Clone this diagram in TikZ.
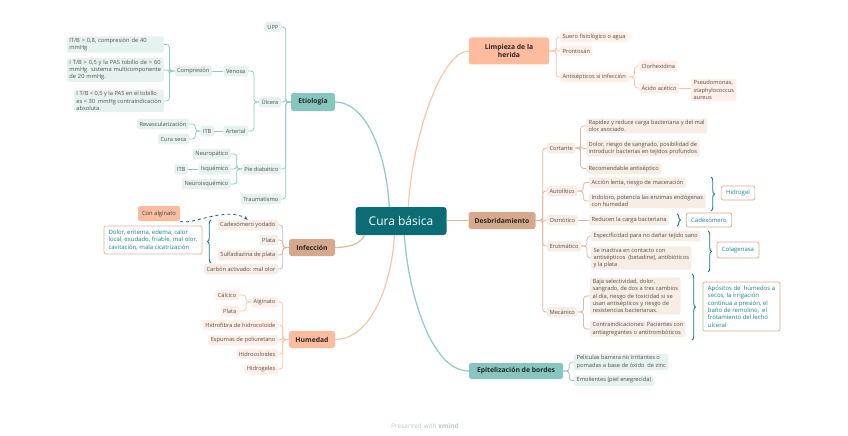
\documentclass[tikz,border=0pt]{standalone}
\usepackage{fontspec}
\setmainfont{Open Sans}
\usetikzlibrary{decorations.pathreplacing,arrows.meta,calc}
\definecolor{cdark}{HTML}{0B6C73}
\definecolor{tmainc}{HTML}{86C6BF}
\definecolor{tlinec}{HTML}{8ACBC3}
\definecolor{tsubc}{HTML}{E5F2F0}
\definecolor{pmainc}{HTML}{FFBB9E}
\definecolor{plinec}{HTML}{FFC2A6}
\definecolor{psubc}{HTML}{FEF0E9}
\definecolor{bmainc}{HTML}{D6A98C}
\definecolor{blinec}{HTML}{DDB79F}
\definecolor{bsubc}{HTML}{F6EDE7}
\definecolor{txtc}{HTML}{574D48}
\definecolor{sumc}{HTML}{16808A}
\definecolor{bracec}{HTML}{137C86}
\definecolor{wmc}{HTML}{BFC5C5}
\newcommand\LeftLink[4]{\draw[#1] (#2.west) -- ++(-#4,0) |- (#3.east);}
\newcommand\RightLink[4]{\draw[#1] (#2.east) -- ++(#4,0) |- (#3.west);}
\begin{document}
\begin{tikzpicture}[x=1pt,y=-1pt,
 sub/.style={rounded corners=2pt, inner xsep=2.4pt, inner ysep=1.6pt, minimum height=10.5pt, font=\fontsize{5.7}{7.3}\selectfont, text=txtc, align=left},
 ts/.style={sub, fill=tsubc}, ps/.style={sub, fill=psubc}, bs/.style={sub, fill=bsubc},
 mainn/.style={rounded corners=2.5pt, font=\fontsize{6.8}{8.6}\selectfont\bfseries, text=black!85, align=center, inner sep=0pt},
 tl/.style={draw=tlinec, line width=0.75pt, rounded corners=3pt},
 pl/.style={draw=plinec, line width=0.75pt, rounded corners=3pt},
 bl/.style={draw=blinec, line width=0.75pt, rounded corners=3pt},
 tlm/.style={draw=tlinec, line width=1.2pt},
 plm/.style={draw=plinec, line width=1.2pt},
 blm/.style={draw=blinec, line width=1.2pt},
 sumbox/.style={draw=bmainc, fill=white, line width=0.7pt, rounded corners=2pt, text=sumc, font=\fontsize{6}{7.4}\selectfont, align=left, inner xsep=4pt, inner ysep=3pt},
 brc/.style={draw=bracec, line width=0.9pt, decorate, decoration={brace, amplitude=3.5pt}},
 ae/.style={anchor=east}, aw/.style={anchor=west}
]
\useasboundingbox[fill=white] (0,0) rectangle (848,436);

% central
\node[fill=cdark, text=white, rounded corners=3pt, minimum width=91pt, minimum height=28pt, font=\fontsize{12}{14}\selectfont] (cb) at (401,221) {Cura básica};

% main topics
\node[mainn, fill=tmainc, minimum width=44pt, minimum height=18pt] (etio) at (313,102) {Etiología};
\node[mainn, fill=pmainc, minimum width=80pt, minimum height=27pt] (limp) at (509,51) {Limpieza de la\\herida};
\node[mainn, fill=bmainc, minimum width=67pt, minimum height=17pt] (desb) at (502,220.5) {Desbridamiento};
\node[mainn, fill=bmainc, minimum width=46pt, minimum height=17pt] (infe) at (312,247.5) {Infección};
\node[mainn, fill=pmainc, minimum width=46pt, minimum height=17pt] (hume) at (312,339.5) {Humedad};
\node[mainn, fill=tmainc, minimum width=94pt, minimum height=16pt] (epit) at (516,371) {Epitelización de bordes};

% main curves
\draw[tlm] (etio.east) .. controls (365,102) and (386,150) .. ($(cb.north west)+(34,0)$);
\draw[plm] (limp.west) .. controls (443,51) and (413,130) .. ($(cb.north west)+(53,0)$);
\draw[blm] (cb.east |- desb.west) -- (desb.west);
\draw[blm] (infe.east) .. controls (352,247.5) and (362,242) .. ($(cb.south west)+(9,0)$);
\draw[plm] (hume.east) .. controls (372,339.5) and (392,282) .. ($(cb.south west)+(39,0)$);
\draw[tlm] (epit.west) .. controls (430,371) and (408,290) .. ($(cb.south west)+(49,0)$);

% ---------- Etiologia ----------
\node[ts, ae] (upp) at (281,27) {UPP};
\node[ts, ae] (ulc) at (281,102) {Úlcera};
\node[ts, ae] (pied) at (281,169) {Pie diabético};
\node[ts, ae] (trau) at (281,199) {Traumatismo};
\foreach \c in {upp,ulc,pied,trau} {\LeftLink{tl}{etio}{\c}{5}}

\node[ts, ae] (veno) at (248,71) {Venosa};
\node[ts, ae] (arte) at (248,131) {Arterial};
\LeftLink{tl}{ulc}{veno}{5}
\LeftLink{tl}{ulc}{arte}{5}

\node[ts, ae] (comp) at (212,71) {Compresión};
\draw[tl] (veno.west) -- (comp.east);
\node[ts, ae, text width=92pt] (c1) at (164,44.5) {IT/B > 0,8, compresión de 40\\mmHg};
\node[ts, ae, text width=92pt] (c2) at (164,70) {I T/B > 0,5 y la PAS tobillo de > 60\\mmHg \ sistema multicomponente\\de 20 mmHg.};
\node[ts, ae] (c3) at (164,101) {I T/B < 0,5 y la PAS en el tobillo\\es < 30 \ mmHg contraindicación\\absoluta.};
\foreach \c in {c1,c2,c3} {\LeftLink{tl}{comp}{\c}{5}}

\node[ts, ae] (itb1) at (214,131) {ITB};
\draw[tl] (arte.west) -- (itb1.east);
\node[ts, ae] (reva) at (189,124) {Revascularización};
\node[ts, ae] (cura) at (189,139) {Cura seca};
\LeftLink{tl}{itb1}{reva}{5}
\LeftLink{tl}{itb1}{cura}{5}

\node[ts, ae] (neur) at (231,154) {Neuropático};
\node[ts, ae] (isqu) at (231,169) {Isquémico};
\node[ts, ae] (neis) at (231,184) {Neuroisquémico};
\foreach \c in {neur,isqu,neis} {\LeftLink{tl}{pied}{\c}{5}}
\node[ts, ae] (itb2) at (188,169) {ITB};
\draw[tl] (isqu.west) -- (itb2.east);

% ---------- Infeccion ----------
\node[bs, ae] (cadx) at (278,225) {Cadexómero yodado};
\node[bs, ae] (plai) at (278,240) {Plata};
\node[bs, ae] (sulf) at (278,255) {Sulfadiazina de plata};
\node[bs, ae] (carb) at (278,269) {Carbón activado: mal olor};
\foreach \c in {cadx,plai,sulf,carb} {\LeftLink{bl}{infe}{\c}{6}}
\draw[brc] (211,263) -- (211,220);
\node[sumbox, draw=bmainc!85, minimum width=98pt, minimum height=28pt, font=\fontsize{6}{7.6}\selectfont] (dolo) at (153,240) {Dolor, eritema, edema, calor\\local, exudado, friable, mal olor,\\cavitación, mala cicatrización};
\node[fill=pmainc, rounded corners=2pt, minimum width=42pt, minimum height=15pt, inner sep=0pt, font=\fontsize{5.8}{7}\selectfont, text=cdark!80!black] (calg) at (159,213.5) {Con alginato};
\draw[draw=cdark, line width=0.8pt, dashed, -{Stealth[length=4pt,width=3.5pt]}] (calg.south east) .. controls (190,226) and (226,206) .. (cadx.north);

% ---------- Humedad ----------
\node[ps, ae] (algi) at (278,302) {Alginato};
\node[ps, ae] (hfib) at (278,325) {Hidrofibra de hidrocoloide};
\node[ps, ae] (espu) at (278,340) {Espumas de poliuretano};
\node[ps, ae] (hcol) at (278,354) {Hidrocoloides};
\node[ps, ae] (hgel) at (278,369) {Hidrogeles};
\foreach \c in {algi,hfib,espu,hcol,hgel} {\LeftLink{pl}{hume}{\c}{6}}
\node[ps, ae] (calc) at (239,295) {Cálcico};
\node[ps, ae] (plah) at (239,311) {Plata};
\LeftLink{pl}{algi}{calc}{5}
\LeftLink{pl}{algi}{plah}{5}

% ---------- Limpieza ----------
\node[ps, aw] (suer) at (560,37) {Suero fisiológico o agua};
\node[ps, aw] (pron) at (560,51) {Prontosán};
\node[ps, aw] (anti) at (560,77) {Antisépticos si infección};
\foreach \c in {suer,pron,anti} {\RightLink{pl}{limp}{\c}{7}}
\node[ps, aw] (clor) at (639,66) {Clorhexidina};
\node[ps, aw] (acid) at (639,88) {Ácido acético};
\RightLink{pl}{anti}{clor}{6}
\RightLink{pl}{anti}{acid}{6}
\node[ps, aw] (pseu) at (691,90) {Pseudomonas,\\staphylococcus\\aureus};
\draw[pl] (acid.east) -- (acid.east -| pseu.west);

% ---------- Desbridamiento ----------
\node[bs, aw] (cort) at (547,148) {Cortante};
\node[bs, aw] (auto) at (547,191) {Autolítico};
\node[bs, aw] (osmo) at (547,220) {Osmótico};
\node[bs, aw] (enzi) at (547,246) {Enzimático};
\node[bs, aw] (meca) at (547,312) {Mecánico};
\foreach \c in {cort,auto,osmo,enzi,meca} {\RightLink{bl}{desb}{\c}{7}}

\node[bs, aw] (r1) at (586,126) {Rapidez y reduce carga bacteriana y del mal\\olor asociado.};
\node[bs, aw] (r2) at (586,148.5) {Dolor, riesgo de sangrado, posibilidad de\\introducir bacterias en tejidos profundos};
\node[bs, aw] (r3) at (586,168.5) {Recomendable antiséptico};
\foreach \c in {r1,r2,r3} {\RightLink{bl}{cort}{\c}{5}}

\node[bs, aw] (a1) at (589,182.5) {Acción lenta, riesgo de maceración};
\node[bs, aw] (a2) at (589,201) {Indoloro, potencia las enzimas endógenas\\con humedad};
\RightLink{bl}{auto}{a1}{6}
\RightLink{bl}{auto}{a2}{6}
\draw[brc] (711,177) -- (711,211);
\node[sumbox, minimum height=14pt, inner xsep=5pt] (hidr) at (738,193) {Hidrogel};

\node[bs, aw] (o1) at (589,220) {Reducen la carga bacteriana};
\draw[bl] (osmo.east) -- (o1.west);
\draw[brc] (677,214) -- (677,226);
\node[sumbox, minimum height=14pt, inner xsep=5pt] (cadm) at (709,220) {Cadexómero};

\node[bs, aw] (e1) at (591,236) {Especificidad para no dañar tejido sano};
\node[bs, aw] (e2) at (591,258) {Se inactiva en contacto con\\antisépticos \ (betadine), antibióticos\\y la plata};
\RightLink{bl}{enzi}{e1}{6}
\RightLink{bl}{enzi}{e2}{6}
\draw[brc] (708,231) -- (708,272);
\node[sumbox, minimum height=16pt, inner xsep=5pt] (cola) at (738,250) {Colagenasa};

\node[bs, aw] (m1) at (590,296) {Baja selectividad, dolor,\\sangrado, de dos a tres cambios\\al día, riesgo de toxicidad si se\\usan antisépticos y riesgo de\\resistencias bacterianas.};
\node[bs, aw] (m2) at (590,329) {Contraindicaciones: Pacientes con\\antiagregantes o antitrombóticos};
\RightLink{bl}{meca}{m1}{6}
\RightLink{bl}{meca}{m2}{6}
\draw[brc] (692,274) -- (692,340);
\node[sumbox, minimum width=77pt, minimum height=49pt, font=\fontsize{6}{7.3}\selectfont] (apos) at (741.5,306.5) {Apósitos de \ húmedos a\\secos, la irrigación\\continua a presión, el\\baño de remolino, \ el\\frotamiento del lecho\\ulceral};

% ---------- Epitelizacion ----------
\node[ts, aw] (p1) at (574,362) {Películas barrera no irritantes o\\pomadas a base de óxido \ de zinc};
\node[ts, aw] (p2) at (574,380.5) {Emolientes (piel enegrecida)};
\RightLink{tl}{epit}{p1}{6}
\RightLink{tl}{epit}{p2}{6}

% watermark
\node[text=wmc, font=\fontsize{6.5}{8}\selectfont] (wm) at (425,426) {Presented with \textbf{xmind}};
\end{tikzpicture}
\end{document}
